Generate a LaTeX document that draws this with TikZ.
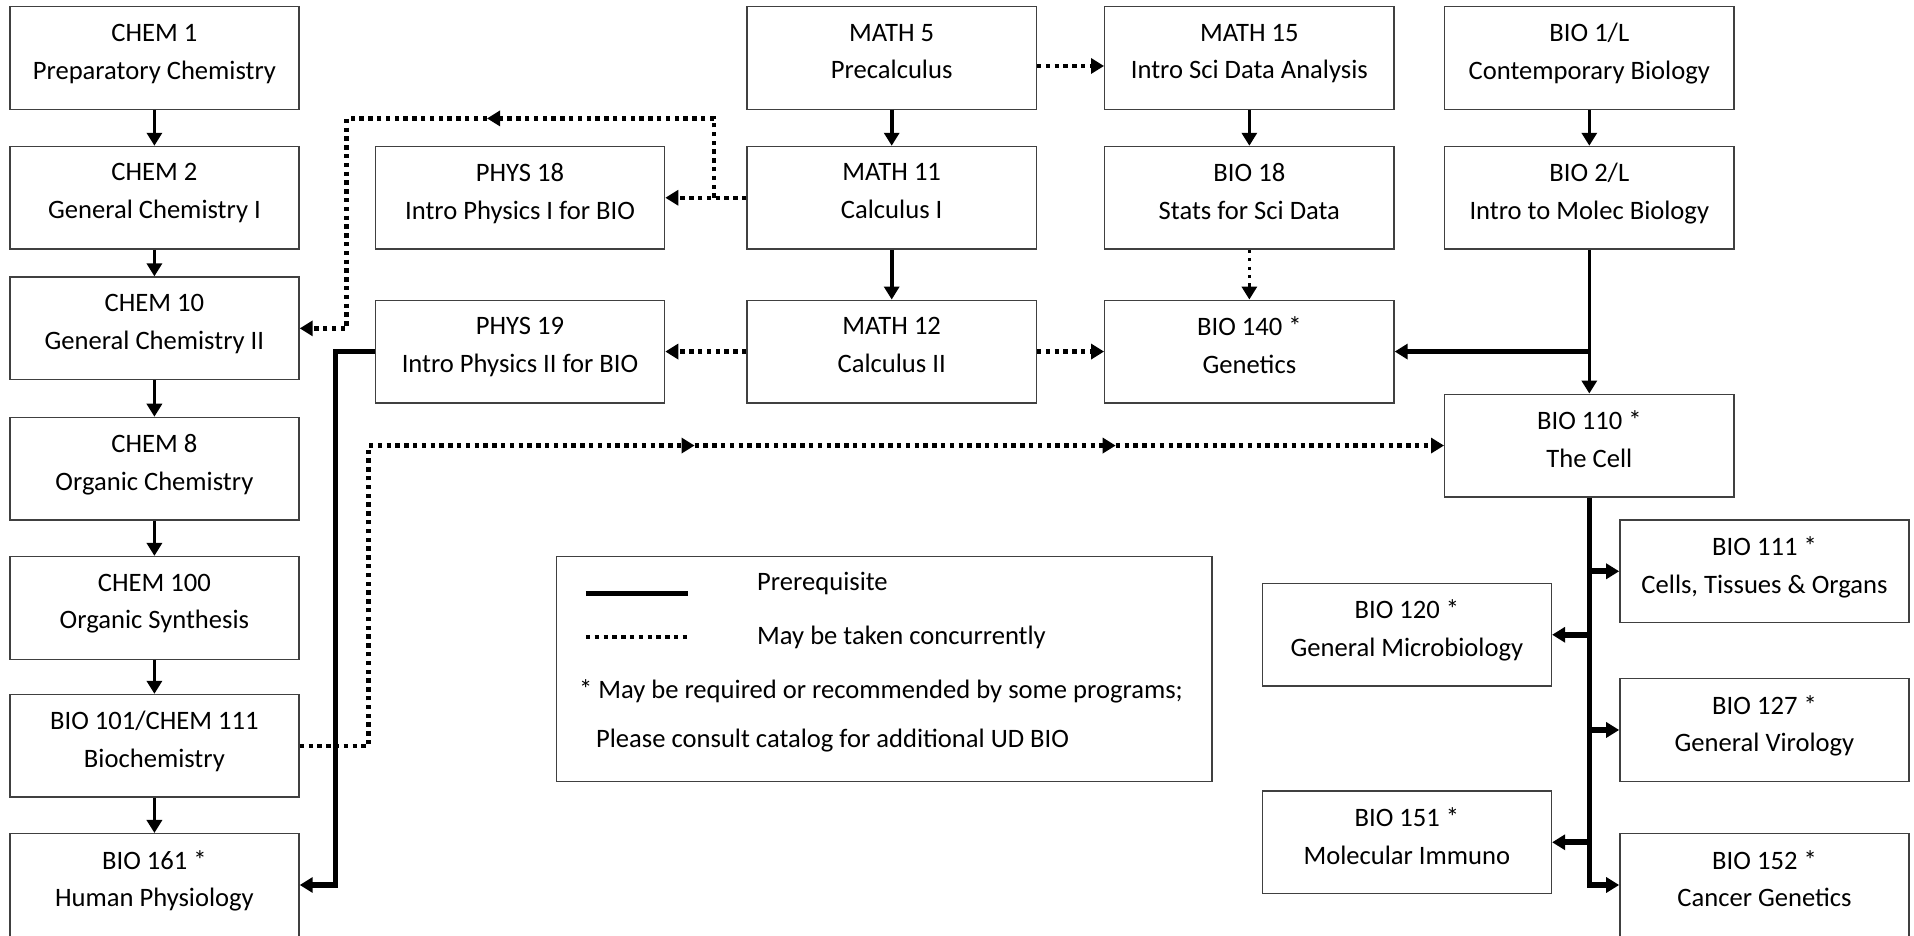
\documentclass[tikz,border=0pt]{standalone}
\usepackage{fontspec}
\setmainfont{Carlito}
\usetikzlibrary{arrows.meta}
\begin{document}
\begin{tikzpicture}[x=0.6103pt,y=-0.6103pt,
 box/.style={draw=black!75, line width=0.7pt, minimum width=144.6pt, minimum height=51.3pt, align=center, inner sep=0pt, text depth=6.5pt, font=\fontsize{13.3}{18.9}\selectfont},
 tip/.style={-{Triangle[length=6.5pt,width=7.5pt]}},
 pre/.style={line width=1.8pt, tip},
 prethick/.style={line width=2.8pt, tip},
 conc/.style={line width=2.2pt, dash pattern=on 2.2pt off 2.2pt, tip},
 lbl/.style={anchor=west, inner sep=0pt, font=\fontsize{13.3}{16}\selectfont}]
\useasboundingbox (0,0) rectangle (1568,766);
% left column
\node[box] (c1) at (126.5,47.5) {CHEM 1\\Preparatory Chemistry};
\node[box] (c2) at (126.5,162) {CHEM 2\\General Chemistry I};
\node[box] (c10) at (126.5,269) {CHEM 10\\General Chemistry II};
\node[box] (c8) at (126.5,384) {CHEM 8\\Organic Chemistry};
\node[box] (c100) at (126.5,498) {CHEM 100\\Organic Synthesis};
\node[box] (b101) at (126.5,611) {BIO 101/CHEM 111\\Biochemistry};
\node[box] (b161) at (126.5,725) {BIO 161 *\\Human Physiology};
% physics
\node[box] (p18) at (426,162) {PHYS 18\\Intro Physics I for BIO};
\node[box] (p19) at (426,288) {PHYS 19\\Intro Physics II for BIO};
% math
\node[box] (m5) at (730.5,47.5) {MATH 5\\Precalculus};
\node[box] (m11) at (730.5,162) {MATH 11\\Calculus I};
\node[box] (m12) at (730.5,288) {MATH 12\\Calculus II};
% stats
\node[box] (m15) at (1023.5,47.5) {MATH 15\\Intro Sci Data Analysis};
\node[box] (b18) at (1023.5,162) {BIO 18\\Stats for Sci Data};
\node[box] (b140) at (1023.5,288) {BIO 140 *\\Genetics};
% bio
\node[box] (b1) at (1302,47.5) {BIO 1/L\\Contemporary Biology};
\node[box] (b2) at (1302,162) {BIO 2/L\\Intro to Molec Biology};
\node[box] (b110) at (1302,365) {BIO 110 *\\The Cell};
\node[box] (b111) at (1445.5,468) {BIO 111 *\\Cells, Tissues \& Organs};
\node[box] (b127) at (1445.5,598) {BIO 127 *\\General Virology};
\node[box] (b152) at (1445.5,725) {BIO 152 *\\Cancer Genetics};
\node[box] (b120) at (1152.5,520) {BIO 120 *\\General Microbiology};
\node[box] (b151) at (1152.5,690) {BIO 151 *\\Molecular Immuno};
% legend
\node[draw=black!75, line width=0.7pt, minimum width=327.7pt, minimum height=112.3pt, inner sep=0pt] (leg) at (724.5,548) {};
\draw[line width=2.4pt] (480,486) -- (564,486);
\draw[line width=2.2pt, dash pattern=on 2.2pt off 2.2pt] (480,522) -- (564,522);
\node[lbl] (l1) at (620,478) {Prerequisite};
\node[lbl] (l2) at (620,522) {May be taken concurrently};
\node[lbl] (l3) at (474,566) {* May be required or recommended by some programs;};
\node[lbl] (l4) at (488,607) {Please consult catalog for additional UD BIO};
% prerequisite chains
\draw[pre] (c1) -- (c2);
\draw[pre] (c2) -- (c10);
\draw[pre] (c10) -- (c8);
\draw[pre] (c8) -- (c100);
\draw[pre] (c100) -- (b101);
\draw[pre] (b101) -- (b161);
\draw[pre] (m5) -- (m11);
\draw[pre] (m11) -- (m12);
\draw[pre] (m15) -- (b18);
\draw[pre] (b1) -- (b2);
\draw[pre] (b2) -- (b110);
\draw[prethick] (b2.south |- b140.east) -- (b140.east);
\draw[prethick] (p19.west) -- ++(-32,0) |- (b161.east);
% BIO 110 trunk
\draw[prethick] (b110.south) |- (b152.west);
\draw[prethick] (b110.south |- b111.west) -- (b111.west);
\draw[prethick] (b110.south |- b120.east) -- (b120.east);
\draw[prethick] (b110.south |- b127.west) -- (b127.west);
\draw[prethick] (b110.south |- b151.east) -- (b151.east);
% concurrent
\draw[conc] ([yshift=-4pt]m5.east) -- ([yshift=-4pt]m15.west);
\draw[conc] (m11.west) -- (p18.east);
\draw[conc] (m12.west) -- (p19.east);
\draw[conc] (m12.east) -- (b140.west);
\draw[conc, line width=1.6pt, dash pattern=on 1.6pt off 2.6pt] (b18.south) -- (b140.north);
\coordinate (k1) at (585,162);
\coordinate (k2) at (399,97);
\coordinate (k3) at (284,97);
\draw[conc] (k1) |- (k2);
\draw[conc] (k2) -- (k3) |- (c10.east);
\coordinate (d0) at (302,365);
\coordinate (d1) at (569,365);
\coordinate (d2) at (914,365);
\draw[conc] (b101.east) -| (d0) -- (d1);
\draw[conc] (d1) -- (d2);
\draw[conc] (d2) -- (b110.west);
\end{tikzpicture}
\end{document}
